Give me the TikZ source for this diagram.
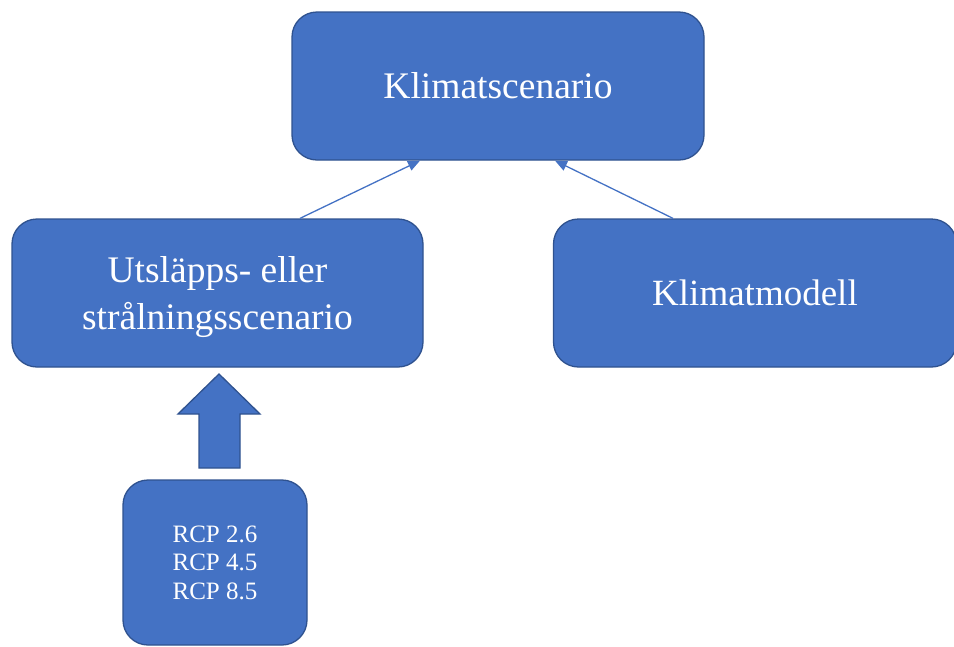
\documentclass[tikz,border=0pt]{standalone}
\usepackage{fontspec}
\setmainfont{Liberation Serif}
\usetikzlibrary{arrows.meta,calc}
\definecolor{boxfill}{HTML}{4472C4}
\definecolor{boxline}{HTML}{2F528F}
\tikzset{
  box/.style={draw=boxline, line width=1.3pt, fill=boxfill, rounded corners=25pt,
    text=white, align=center, inner sep=0pt},
  conn/.style={draw=boxfill, line width=1.3pt, -{Triangle[length=12pt,width=10pt]}},
  blockarrow/.style={draw=boxline, line width=1.3pt, fill=boxfill, line join=miter}
}
\begin{document}
\begin{tikzpicture}[x=1pt,y=-1pt]
\useasboundingbox (0,0) rectangle (954,646);
\node[box, minimum width=412pt, minimum height=148pt, font=\fontsize{37.5}{43}\selectfont] (top) at (498,86) {Klimatscenario};
\node[box, minimum width=411pt, minimum height=148pt, font=\fontsize{37.5}{47}\selectfont] (left) at (217.5,293) {\rule{0pt}{34pt}Utsläpps- eller\\strålningsscenario};
\node[box, minimum width=403pt, minimum height=148pt, font=\fontsize{37}{43}\selectfont] (right) at (755,293) {Klimatmodell};
\node[box, minimum width=184pt, minimum height=165pt, font=\fontsize{25}{28.5}\selectfont] (rcp) at (215,562.5) {RCP 2.6\\RCP 4.5\\RCP 8.5};
\coordinate (l1) at ([xshift=82.5pt]left.north);
\coordinate (t1) at ([xshift=-78pt]top.south);
\coordinate (r1) at ([xshift=-82pt]right.north);
\coordinate (t2) at ([xshift=57pt]top.south);
\draw[conn] (l1) -- (t1);
\draw[conn] (r1) -- (t2);
\draw[blockarrow] (199,468) -- (199,414) -- (178,414) -- (219,374) -- (260,414) -- (240,414) -- (240,468) -- cycle;
\end{tikzpicture}
\end{document}
